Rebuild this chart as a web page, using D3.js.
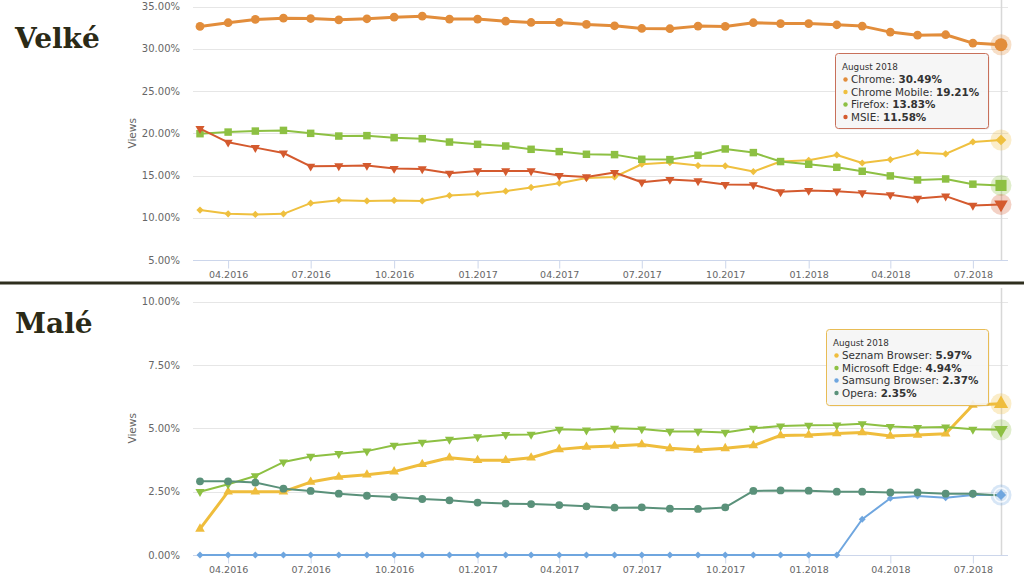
<!DOCTYPE html>
<html>
<head>
<meta charset="utf-8">
<script src="https://cdn.jsdelivr.net/npm/d3@7"></script>
<style>
  html, body { margin: 0; padding: 0; background: #fff; }
  svg { display: block; }
</style>
</head>
<body>
<svg id="chart" width="1024" height="576"></svg>
<script>
// ---------- DATA ----------
const months = ["2016-03","2016-04","2016-05","2016-06","2016-07","2016-08","2016-09","2016-10","2016-11","2016-12",
                "2017-01","2017-02","2017-03","2017-04","2017-05","2017-06","2017-07","2017-08","2017-09","2017-10",
                "2017-11","2017-12","2018-01","2018-02","2018-03","2018-04","2018-05","2018-06","2018-07","2018-08"];

// Velké (large browsers)
const chrome       = [32.66,33.10,33.49,33.64,33.60,33.45,33.57,33.76,33.88,33.53,33.53,33.29,33.13,33.13,32.90,
                      32.74,32.42,32.39,32.70,32.66,33.10,33.00,33.00,32.86,32.70,31.99,31.63,31.68,30.69,30.49];
const chromeMobile = [10.91,10.47,10.40,10.47,11.73,12.09,12.00,12.05,12.00,12.64,12.83,13.15,13.59,14.09,14.70,
                      14.84,16.34,16.54,16.18,16.14,15.47,16.66,16.81,17.44,16.49,16.89,17.72,17.56,18.98,19.21];
const firefox      = [19.96,20.15,20.27,20.35,20.00,19.68,19.73,19.49,19.37,18.97,18.70,18.50,18.11,17.84,17.52,
                      17.48,16.93,16.89,17.40,18.15,17.72,16.66,16.34,15.98,15.51,14.96,14.48,14.60,13.98,13.83];
const msie         = [20.55,18.94,18.31,17.67,16.10,16.14,16.18,15.83,15.78,15.27,15.55,15.55,15.55,15.00,14.84,
                      15.36,14.21,14.53,14.37,13.94,13.90,13.07,13.23,13.15,12.95,12.72,12.29,12.56,11.46,11.58];

// Malé (small browsers)
const seznam  = [1.03,2.50,2.50,2.50,2.88,3.08,3.17,3.29,3.58,3.84,3.74,3.74,3.84,4.17,4.26,
                 4.30,4.36,4.21,4.15,4.21,4.32,4.72,4.74,4.80,4.84,4.70,4.74,4.79,5.92,5.97];
const edge    = [2.50,2.79,3.12,3.67,3.89,4.00,4.10,4.33,4.45,4.56,4.66,4.75,4.76,4.96,4.93,
                 5.00,4.97,4.88,4.88,4.84,5.00,5.09,5.12,5.13,5.18,5.07,5.03,5.05,4.96,4.94];
const samsung = [0,0,0,0,0,0,0,0,0,0,0,0,0,0,0,
                 0,0,0,0,0,0,0,0,0,1.41,2.24,2.33,2.26,2.37,2.37];
const opera   = [2.91,2.91,2.86,2.62,2.53,2.42,2.34,2.29,2.21,2.16,2.07,2.03,2.01,1.97,1.92,
                 1.87,1.88,1.83,1.82,1.88,2.53,2.55,2.54,2.50,2.50,2.47,2.47,2.42,2.42,2.35];

const topTicks    = [5,10,15,20,25,30,35];
const bottomTicks = [0,2.5,5,7.5,10];
const tooltipTitle = "August 2018";

// ---------- DRAW ----------
const svg = d3.select("#chart");
const parse = d3.timeParse("%Y-%m");
const dates = months.map(parse);
const fontUI = "'DejaVu Sans', Verdana, sans-serif";
const last = dates.length - 1;

const x = d3.scaleTime().domain([dates[0], dates[last]]).range([200, 1001]);

function symbolPath(type, size) {
  if (type === "circle") return d3.symbol(d3.symbolCircle, size)();
  if (type === "square" || type === "diamond") return d3.symbol(d3.symbolSquare, size)();
  return d3.symbol(d3.symbolTriangle, size)();
}
function symbolRot(type) {
  if (type === "triangle-down") return 180;
  if (type === "diamond") return 45;
  return 0;
}

function drawChart(cfg) {
  const g = svg.append("g");
  const y = d3.scaleLinear().domain(cfg.domain).range(cfg.range);
  const left = 193, right = 1008;

  // grid
  g.append("g").selectAll("line").data(cfg.ticks.slice(1)).join("line")
    .attr("x1", left).attr("x2", right)
    .attr("y1", d => Math.round(y(d)) + 0.5).attr("y2", d => Math.round(y(d)) + 0.5)
    .attr("stroke", "#e6e6e6").attr("stroke-width", 1);

  // y labels
  g.append("g").selectAll("text").data(cfg.ticks).join("text")
    .attr("x", 180).attr("y", d => y(d) + 3.5)
    .attr("text-anchor", "end")
    .attr("font-family", fontUI).attr("font-size", 10)
    .attr("fill", "#666666")
    .text(d => d3.format(".2f")(d) + "%");

  // y title
  g.append("text")
    .attr("transform", `translate(136,${(cfg.range[0] + cfg.range[1]) / 2}) rotate(-90)`)
    .attr("text-anchor", "middle")
    .attr("font-family", fontUI).attr("font-size", 10.5)
    .attr("fill", "#666666")
    .text("Views");

  // x axis
  const ax = g.append("g").attr("transform", `translate(0,${Math.round(cfg.range[0]) + 0.5})`)
    .call(d3.axisBottom(x).ticks(d3.timeMonth.every(3)).tickFormat(d3.timeFormat("%m.%Y")).tickSizeInner(8).tickSizeOuter(0).tickPadding(3));
  ax.select(".domain").attr("d", `M${left},0H${right}`).attr("stroke", "#ccd6eb");
  ax.selectAll(".tick line").attr("stroke", "#ccd6eb");
  ax.selectAll(".tick text").attr("font-family", fontUI).attr("font-size", 9.5).attr("fill", "#666666");

  // crosshair
  g.append("line").attr("x1", x(dates[last]) + 0.5).attr("x2", x(dates[last]) + 0.5)
    .attr("y1", cfg.crossTop).attr("y2", cfg.range[0])
    .attr("stroke", "#d8d8d8").attr("stroke-width", 1.5);

  // halos for hovered last points
  const haloG = g.append("g");
  cfg.hoverOrder.forEach(k => {
    const s = cfg.series[k];
    haloG.append("circle")
      .attr("cx", x(dates[last])).attr("cy", y(s.values[last])).attr("r", 10.5)
      .attr("fill", s.color).attr("fill-opacity", 0.28);
  });

  // series
  const line = d3.line().x((d, i) => x(dates[i])).y(d => y(d));
  cfg.series.forEach(s => {
    const sg = g.append("g");
    sg.append("path").attr("d", line(s.values))
      .attr("fill", "none").attr("stroke", s.color).attr("stroke-width", s.width)
      .attr("stroke-linejoin", "round").attr("stroke-linecap", "round");
    sg.selectAll("path.m").data(s.values.slice(0, last)).join("path").attr("class", "m")
      .attr("d", symbolPath(s.symbol, s.size))
      .attr("transform", (d, i) => `translate(${x(dates[i])},${y(d)}) rotate(${symbolRot(s.symbol)})`)
      .attr("fill", s.color);
  });

  // hovered (enlarged) last markers, drawn on top in given order
  cfg.hoverOrder.forEach(k => {
    const s = cfg.series[k];
    if (s.ring) {
      g.append("circle").attr("cx", x(dates[last])).attr("cy", y(s.values[last])).attr("r", 7)
        .attr("fill", "none").attr("stroke", "#ffffff").attr("stroke-width", 1.5).attr("stroke-opacity", 0.8);
    }
    g.append("path")
      .attr("d", symbolPath(s.symbol, s.size * 2.2))
      .attr("transform", `translate(${x(dates[last])},${y(s.values[last])}) rotate(${symbolRot(s.symbol)})`)
      .attr("fill", s.color);
  });

  // tooltip
  const tt = cfg.tooltip;
  const tg = g.append("g").attr("transform", `translate(${tt.x},${tt.y})`);
  tg.append("rect").attr("x", 1.5).attr("y", 1.5).attr("width", tt.w).attr("height", tt.h).attr("rx", 3)
    .attr("fill", "rgba(0,0,0,0.08)");
  tg.append("rect").attr("x", 0.5).attr("y", 0.5).attr("width", tt.w).attr("height", tt.h).attr("rx", 3)
    .attr("fill", "rgba(247,247,247,0.9)").attr("stroke", tt.border).attr("stroke-width", 1);
  tg.append("text").attr("x", 7).attr("y", 17)
    .attr("font-family", fontUI).attr("font-size", 8.8).attr("fill", "#333333")
    .text(tooltipTitle);
  cfg.series.forEach((s, i) => {
    const by = 30 + i * 12.5;
    tg.append("circle").attr("cx", 10.5).attr("cy", by - 3.5).attr("r", 2.2).attr("fill", s.color);
    const t = tg.append("text").attr("x", 16).attr("y", by)
      .attr("font-family", fontUI).attr("font-size", 10.4).attr("fill", "#333333");
    t.append("tspan").text(s.name + ": ");
    t.append("tspan").attr("font-weight", "bold").text(d3.format(".2f")(s.values[last]) + "%");
  });

  // section title
  svg.append("text").attr("x", 15).attr("y", cfg.titleY)
    .attr("font-family", "'DejaVu Serif', serif").attr("font-weight", "bold")
    .attr("font-size", 28).attr("fill", "#2b2a16")
    .text(cfg.title);
}

drawChart({
  title: "Velké", titleY: 48,
  domain: [5, 35], range: [260, 6.7], ticks: topTicks, crossTop: 0,
  series: [
    { name: "Chrome", values: chrome, color: "#e28d3b", width: 3, symbol: "circle", size: 60 },
    { name: "Chrome Mobile", values: chromeMobile, color: "#efc03f", width: 2, symbol: "diamond", size: 26 },
    { name: "Firefox", values: firefox, color: "#8dc043", width: 2, symbol: "square", size: 56 },
    { name: "MSIE", values: msie, color: "#d45a2e", width: 2, symbol: "triangle-down", size: 36 }
  ],
  hoverOrder: [0, 1, 2, 3],
  tooltip: { x: 835, y: 53, w: 153, h: 75, border: "#c8705a" }
});

drawChart({
  title: "Malé", titleY: 333,
  domain: [0, 10], range: [555, 301.7], ticks: bottomTicks, crossTop: 288,
  series: [
    { name: "Seznam Browser", values: seznam, color: "#efbd3c", width: 3, symbol: "triangle", size: 40 },
    { name: "Microsoft Edge", values: edge, color: "#8dc043", width: 2, symbol: "triangle-down", size: 36 },
    { name: "Samsung Browser", values: samsung, color: "#6fa6df", width: 2, symbol: "diamond", size: 24, ring: true },
    { name: "Opera", values: opera, color: "#5a917a", width: 2, symbol: "circle", size: 48 }
  ],
  hoverOrder: [0, 1, 2],
  tooltip: { x: 826, y: 329, w: 162, h: 76, border: "#e8bc55" }
});

// separator bar
svg.append("rect").attr("x", 0).attr("y", 281.5).attr("width", 1024).attr("height", 3).attr("fill", "#2e2e1e");
</script>
</body>
</html>
